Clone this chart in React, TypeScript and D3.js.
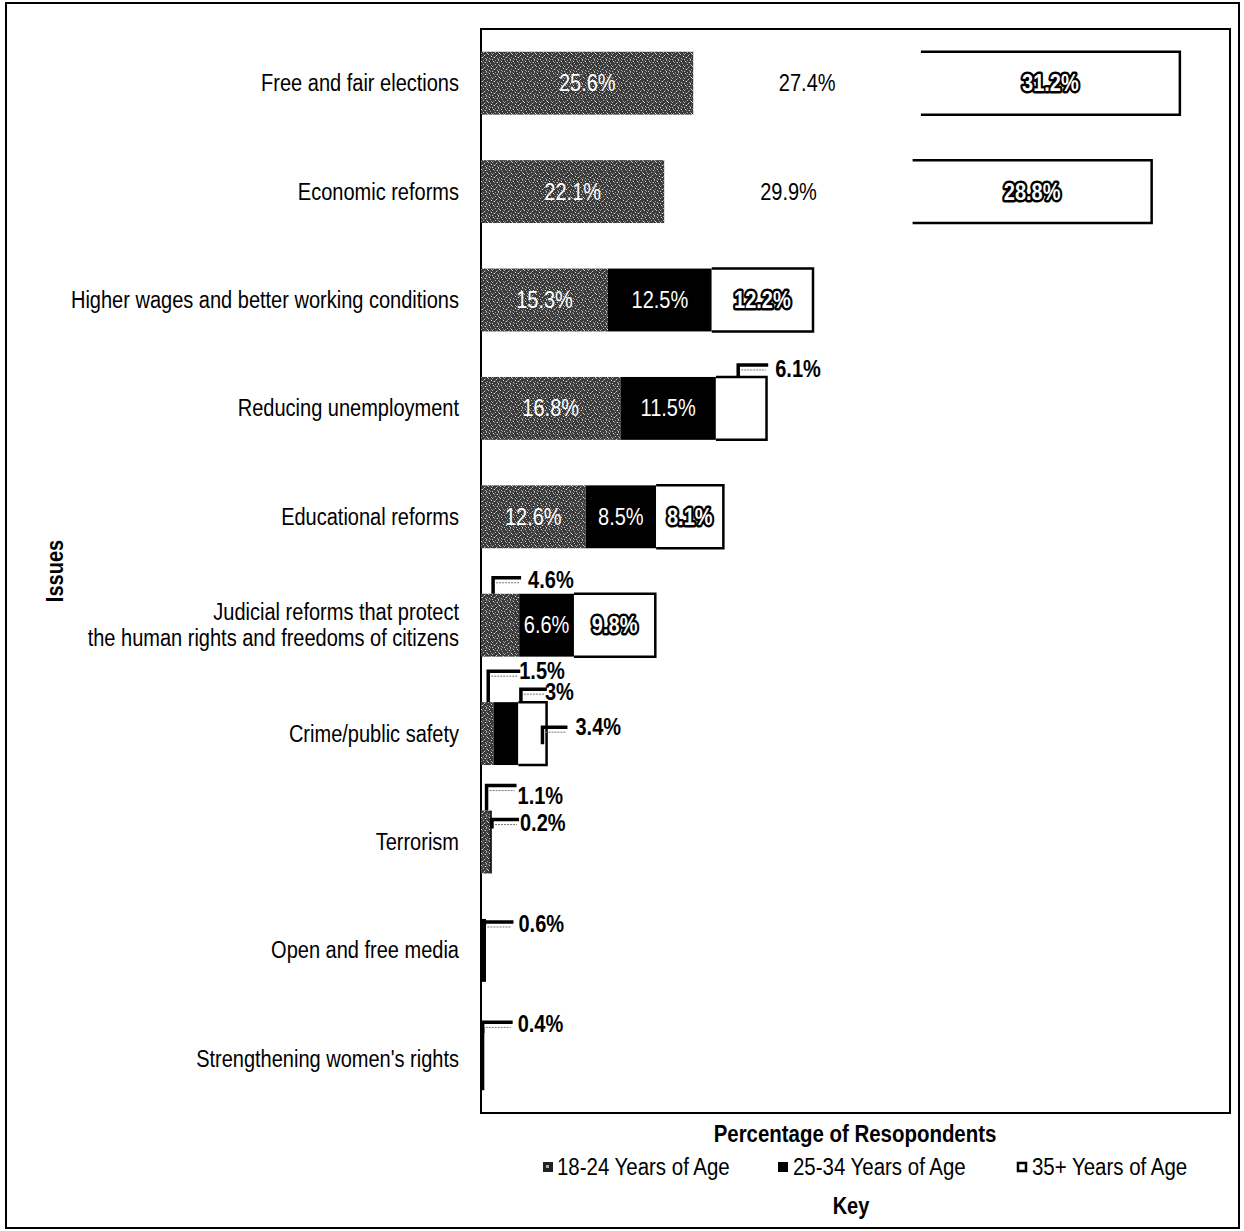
import React from "react";
import * as d3 from "d3";

const categories = [
  "Free and fair elections",
  "Economic reforms",
  "Higher wages and better working conditions",
  "Reducing unemployment",
  "Educational reforms",
  "Judicial reforms that protect\nthe human rights and freedoms of citizens",
  "Crime/public safety",
  "Terrorism",
  "Open and free media",
  "Strengthening women's rights",
];
const age18to24 = [25.6, 22.1, 15.3, 16.8, 12.6, 4.6, 1.5, 1.1, 0, 0];
const age25to34 = [27.4, 29.9, 12.5, 11.5, 8.5, 6.6, 3.0, 0.2, 0.6, 0.4];
const age35plus = [31.2, 28.8, 12.2, 6.1, 8.1, 9.8, 3.4, 0, 0, 0];
const seriesNames = ["18-24 Years of Age", "25-34 Years of Age", "35+ Years of Age"];
const xTitle = "Percentage of Resopondents";
const yTitle = "Issues";
const legendTitle = "Key";

// layout of the small callout labels (row-series -> leader geometry relative to bar top)
const callouts: Record<string, { vx: number; y0: number; yl: number; hx: number; lx: number; ly: number }> = {
  "3-2": { vx: -3, y0: 0, yl: -12, hx: 30, lx: 37, ly: -8 },
  "5-0": { vx: -7, y0: 0, yl: -16, hx: 28, lx: 35, ly: -14 },
  "6-0": { vx: 1, y0: 0, yl: -31, hx: 32, lx: 31, ly: -31 },
  "6-1": { vx: 15, y0: 0, yl: -13, hx: 26, lx: 24, ly: -10 },
  "6-2": { vx: 10, y0: 42, yl: 25, hx: 25, lx: 33, ly: 25 },
  "7-0": { vx: 1, y0: 0, yl: -25, hx: 30, lx: 31, ly: -15 },
  "7-1": { vx: 1, y0: 18, yl: 9, hx: 27, lx: 28, ly: 12 },
  "8-1": { vx: 1, y0: 6, yl: 3, hx: 29, lx: 34, ly: 5 },
  "9-1": { vx: 0, y0: 6, yl: -5, hx: 30, lx: 35, ly: -3 },
};

const FONT = "'Liberation Sans', Arial, sans-serif";
const NARROW = 0.87;

function T(props: {
  x: number;
  y: number;
  size?: number;
  anchor?: "start" | "middle" | "end";
  weight?: string;
  fill?: string;
  outline?: boolean;
  rotate?: number;
  children: React.ReactNode;
}) {
  const { x, y, size = 23, anchor = "start", weight = "normal", fill = "#000", outline, rotate } = props;
  const tr = `translate(${x},${y})${rotate ? ` rotate(${rotate})` : ""} scale(${NARROW},1)`;
  return (
    <text
      transform={tr}
      textAnchor={anchor}
      dy="0.35em"
      fontSize={size}
      fontWeight={weight}
      fill={fill}
      stroke={outline ? "#000" : undefined}
      strokeWidth={outline ? 5 : undefined}
      strokeLinejoin="round"
      style={outline ? { paintOrder: "stroke" } : undefined}
    >
      {props.children}
    </text>
  );
}

const speckDots: [number, number, string][] = [
  [1, 1, "#ccc"], [5, 2, "#ddd"], [3, 4, "#bbb"], [7, 5, "#ddd"], [0, 6, "#aaa"], [4, 7, "#ccc"],
  [6, 0, "#aaa"], [2, 2, "#888"], [6, 4, "#999"], [1, 5, "#888"], [3, 0, "#999"], [5, 6, "#777"],
  [7, 2, "#777"], [9, 1, "#ddd"], [10, 3, "#aaa"], [8, 6, "#ccc"], [11, 8, "#ddd"], [9, 10, "#bbb"],
  [2, 9, "#ddd"], [5, 10, "#aaa"], [0, 11, "#ccc"], [7, 9, "#999"], [10, 11, "#888"], [3, 8, "#888"],
  [11, 5, "#999"], [8, 0, "#777"], [6, 11, "#ccc"], [4, 2, "#666"], [10, 7, "#666"], [1, 9, "#777"],
];

export default function App() {
  const W = 1244, H = 1231;
  const plot = { left: 481, right: 1230, top: 29, bottom: 1113 };
  const x = d3.scaleLinear().domain([0, 90.24]).range([plot.left, plot.right]);
  const y = d3
    .scaleBand<number>()
    .domain(categories.map((_, i) => i))
    .range([plot.top, plot.bottom])
    .paddingInner(0.42)
    .paddingOuter(0.21);

  const rows = categories.map((c, i) => ({ i, s0: age18to24[i], s1: age25to34[i], s2: age35plus[i] }));
  const stack = d3.stack<any>().keys(["s0", "s1", "s2"]);
  const stacked = stack(rows);

  const fills = ["url(#speck)", "#000", "#fff"];
  const fadedMiddleRows = [0, 1];

  const segs: React.ReactNode[] = [];
  const labels: React.ReactNode[] = [];
  stacked.forEach((layer, si) => {
    layer.forEach((d, ri) => {
      const v = (rows[ri] as any)[layer.key];
      if (!v) return;
      const x0 = x(d[0]);
      const x1 = x(d[1]);
      const w = x1 - x0;
      const yt = y(ri)!;
      const bh = y.bandwidth();
      const faded = si === 1 && fadedMiddleRows.includes(ri);
      if (si === 2) {
        segs.push(<rect key={`f${si}-${ri}`} x={x0} y={yt} width={w} height={bh} fill="#fff" />);
        segs.push(
          <path
            key={`s${si}-${ri}`}
            d={`M${x0},${yt}H${x1}V${yt + bh}H${x0}`}
            fill="none"
            stroke="#000"
            strokeWidth={2.5}
          />
        );
      } else {
        segs.push(
          <rect key={`s${si}-${ri}`} x={x0} y={yt} width={w} height={bh} fill={faded ? "#fff" : fills[si]} />
        );
      }
      const text = `${v}%`;
      if (w > 52) {
        const cx = (x0 + x1) / 2;
        const cy = yt + bh / 2;
        labels.push(
          <T
            key={`l${si}-${ri}`}
            x={cx}
            y={cy}
            anchor="middle"
            weight={si === 2 ? "bold" : "normal"}
            fill={faded ? "#000" : "#fff"}
            outline={si === 2}
          >
            {text}
          </T>
        );
      } else {
        const c = callouts[`${ri}-${si}`];
        if (!c) return;
        const mx = (x0 + x1) / 2 + c.vx;
        const yl = yt + c.yl;
        labels.push(
          <g key={`c${si}-${ri}`}>
            <path
              d={`M${mx},${yt + c.y0}V${yl}H${mx + c.hx}`}
              fill="none"
              stroke="#000"
              strokeWidth={3.5}
              strokeLinejoin="miter"
            />
            <path
              d={`M${mx + 3},${yl + 5}H${mx + c.hx - 2}`}
              fill="none"
              stroke="#777"
              strokeWidth={1}
              strokeDasharray="2,1"
            />
            <T x={mx + c.lx} y={yt + c.ly} weight="bold">
              {text}
            </T>
          </g>
        );
      }
    });
  });

  const legendItems = [
    { x: 543, tx: 557 },
    { x: 778, tx: 793 },
    { x: 1017, tx: 1032 },
  ];

  return (
    <svg
      width={W}
      height={H}
      style={{ position: "absolute", left: 0, top: 0, background: "#fff" }}
      fontFamily={FONT}
    >
      <defs>
        <pattern id="speck" width={12} height={12} patternUnits="userSpaceOnUse">
          <rect width={12} height={12} fill="#3a3a3a" />
          {speckDots.map(([px, py, c], k) => (
            <rect key={k} x={px} y={py} width={1} height={1} fill={c} />
          ))}
        </pattern>
      </defs>
      <rect x={0} y={0} width={W} height={H} fill="#fff" />
      <rect x={6} y={3} width={1233} height={1225} fill="none" stroke="#000" strokeWidth={2} />
      <rect
        x={plot.left}
        y={plot.top}
        width={plot.right - plot.left}
        height={plot.bottom - plot.top}
        fill="none"
        stroke="#000"
        strokeWidth={2}
      />
      {segs}
      {labels}
      {categories.map((c, i) => {
        const lines = c.split("\n");
        const cy = y(i)! + y.bandwidth() / 2;
        return (
          <g key={c}>
            {lines.map((ln, k) => (
              <T key={k} x={459} y={cy + (k - (lines.length - 1) / 2) * 26} anchor="end">
                {ln}
              </T>
            ))}
          </g>
        );
      })}
      <T x={55} y={(plot.top + plot.bottom) / 2} anchor="middle" weight="bold" rotate={-90}>
        {yTitle}
      </T>
      <T x={855} y={1134} anchor="middle" weight="bold" size={23.5}>
        {xTitle}
      </T>
      {seriesNames.map((n, i) => (
        <g key={n}>
          {i === 0 && (
            <g>
              <rect x={legendItems[i].x} y={1162} width={10} height={10} fill="#222" />
              <rect x={legendItems[i].x + 3} y={1165} width={3} height={3} fill="#aaa" />
            </g>
          )}
          {i === 1 && <rect x={legendItems[i].x} y={1162} width={10} height={10} fill="#000" />}
          {i === 2 && (
            <rect x={legendItems[i].x + 1} y={1163} width={8} height={8} fill="#fff" stroke="#000" strokeWidth={2.5} />
          )}
          <T x={legendItems[i].tx} y={1167} size={23.5}>
            {n}
          </T>
        </g>
      ))}
      <T x={851} y={1206} anchor="middle" weight="bold">
        {legendTitle}
      </T>
    </svg>
  );
}
